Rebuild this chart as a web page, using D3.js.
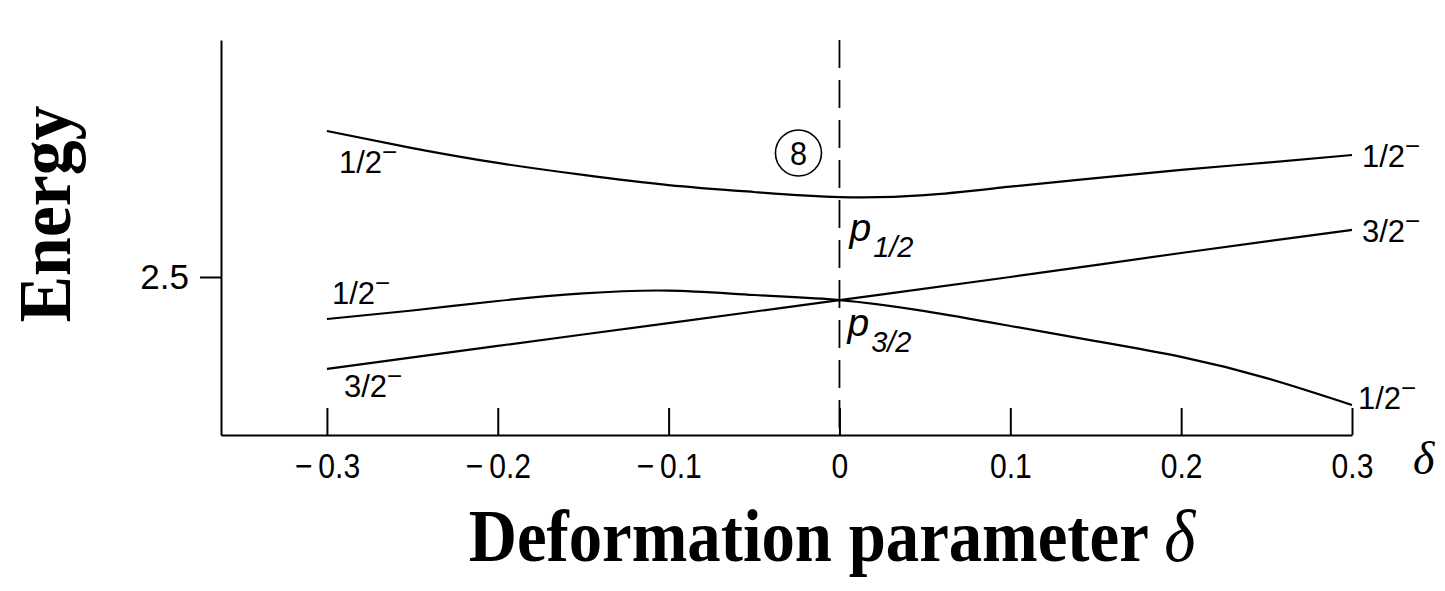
<!DOCTYPE html>
<html>
<head>
<meta charset="utf-8">
<script src="https://cdn.jsdelivr.net/npm/d3@7"></script>
<style>
  html, body { margin: 0; padding: 0; background: #fff; }
  svg { display: block; }
  .sans { font-family: "Liberation Sans", Arial, Helvetica, sans-serif; fill: #000; }
  .serif { font-family: "Liberation Serif", "Times New Roman", serif; fill: #000; }
</style>
</head>
<body>
<svg id="chart" width="1445" height="591"></svg>
<script>
// Deformation parameter values where the levels are sampled
const deltaUpper = [-0.3, -0.25, -0.2, -0.15, -0.1, -0.05, 0, 0.05, 0.1, 0.15, 0.2, 0.25, 0.3];
// Upper 1/2- level (from p1/2)
const energyUpper = [2.962, 2.908, 2.861, 2.823, 2.791, 2.769, 2.753, 2.759, 2.786, 2.813, 2.839, 2.862, 2.886];

const deltaMiddle = [-0.3, -0.25, -0.2, -0.15, -0.1, -0.05, 0, 0.05, 0.1, 0.15, 0.2, 0.25, 0.3];
// 1/2- level from p3/2
const energyMiddle = [2.367, 2.394, 2.424, 2.448, 2.457, 2.443, 2.427, 2.392, 2.345, 2.297, 2.247, 2.180, 2.095];

const deltaThreeHalf = [-0.3, -0.2, -0.1, 0, 0.1, 0.2, 0.3];
// 3/2- level from p3/2
const energyThreeHalf = [2.209, 2.282, 2.354, 2.427, 2.500, 2.576, 2.649];

const xTickValues = [-0.3, -0.2, -0.1, 0, 0.1, 0.2, 0.3];
const yTickValues = [2.5];

const svg = d3.select("#chart");

const x = d3.scaleLinear().domain([-0.362, 0.3]).range([221, 1352]);
const y = d3.scaleLinear().domain([2.0, 3.25]).range([435, 40]);

const fmt = d => d === 0 ? "0" : (d < 0 ? "\u2212\u2009" : "") + Math.abs(d).toFixed(1);

// x axis with inward ticks
const gx = svg.append("g")
  .attr("transform", `translate(0,${y(2.0)})`)
  .call(d3.axisBottom(x).tickValues(xTickValues).tickSizeInner(-27).tickSizeOuter(0).tickPadding(18).tickFormat(fmt));
gx.select(".domain").attr("stroke", "#000").attr("stroke-width", 2);
gx.selectAll(".tick line").attr("stroke", "#000").attr("stroke-width", 2);
gx.selectAll(".tick text").attr("class", "sans").attr("font-size", 35).attr("dy", "0.71em")
  .attr("transform", "scale(0.86,1)");

// y axis with a single outward tick
const gy = svg.append("g")
  .attr("transform", `translate(${x(-0.362)},0)`)
  .call(d3.axisLeft(y).tickValues(yTickValues).tickSizeInner(21).tickSizeOuter(0).tickPadding(11).tickFormat(d3.format(".1f")));
gy.select(".domain").attr("stroke", "#000").attr("stroke-width", 2);
gy.selectAll(".tick line").attr("stroke", "#000").attr("stroke-width", 2);
gy.selectAll(".tick text").attr("class", "sans").attr("font-size", 35);

// dashed line at spherical shape
svg.append("line")
  .attr("x1", x(0)).attr("x2", x(0))
  .attr("y1", y(3.25)).attr("y2", y(2.0))
  .attr("stroke", "#000").attr("stroke-width", 1.8)
  .attr("stroke-dasharray", "28,12");

const line = d3.line().x(d => x(d[0])).y(d => y(d[1])).curve(d3.curveNatural);

const levels = [
  d3.zip(deltaUpper, energyUpper),
  d3.zip(deltaMiddle, energyMiddle),
  d3.zip(deltaThreeHalf, energyThreeHalf)
];
svg.selectAll("path.level").data(levels).join("path")
  .attr("class", "level")
  .attr("d", line)
  .attr("fill", "none")
  .attr("stroke", "#000")
  .attr("stroke-width", 2.2);

// Omega^pi labels at the ends of each level
function omegaLabel(px, py, frac) {
  const t = svg.append("text").attr("class", "sans").attr("font-size", 31)
    .attr("x", px).attr("y", py);
  t.append("tspan").text(frac);
  t.append("tspan").attr("font-size", 26).attr("dy", -12).text("\u2212");
}
const last = a => a[a.length - 1];
omegaLabel(x(-0.3) + 12, y(energyUpper[0]) + 42, "1/2");
omegaLabel(x(0.3) + 10, y(last(energyUpper)) + 12, "1/2");
omegaLabel(x(0.3) + 10, y(last(energyThreeHalf)) + 12, "3/2");
omegaLabel(x(-0.3) + 5, y(energyMiddle[0]) - 15, "1/2");
omegaLabel(x(-0.3) + 17, y(energyThreeHalf[0]) + 28, "3/2");
omegaLabel(x(0.3) + 6, y(last(energyMiddle)) + 4, "1/2");

// spherical orbital labels
function orbitalLabel(px, py, sub) {
  const t = svg.append("text").attr("class", "sans").attr("font-style", "italic")
    .attr("x", px).attr("y", py);
  t.append("tspan").attr("font-size", 39).text("p");
  t.append("tspan").attr("font-size", 29).attr("dy", 16).attr("dx", 2).text(sub);
}
orbitalLabel(x(0) + 10, y(energyMiddle[6]) - 59, "1/2");
orbitalLabel(x(0) + 8, y(energyMiddle[6]) + 36, "3/2");

// shell number in a circle
svg.append("circle").attr("cx", x(-0.024)).attr("cy", 153).attr("r", 23)
  .attr("fill", "none").attr("stroke", "#000").attr("stroke-width", 1.6);
svg.append("text").attr("class", "sans").attr("font-size", 34)
  .attr("text-anchor", "middle").attr("dy", "0.36em")
  .attr("transform", `translate(${x(-0.024)},153) scale(0.9,1)`).text("8");

// axis symbol
svg.append("text").attr("class", "serif").attr("font-style", "italic").attr("font-size", 46)
  .attr("x", 1413).attr("y", 474).text("\u03b4");

// axis titles
svg.append("text").attr("class", "serif").attr("font-weight", "bold").attr("font-size", 75)
  .attr("text-anchor", "middle")
  .attr("transform", "translate(70,214) rotate(-90) scale(0.93,1)")
  .text("Energy");

const xt = svg.append("text").attr("class", "serif").attr("font-weight", "bold").attr("font-size", 75)
  .attr("text-anchor", "middle")
  .attr("transform", "translate(832,561) scale(0.89,1)");
xt.append("tspan").text("Deformation parameter ");
xt.append("tspan").attr("font-style", "italic").attr("font-weight", "normal").text("\u03b4");
</script>
</body>
</html>
